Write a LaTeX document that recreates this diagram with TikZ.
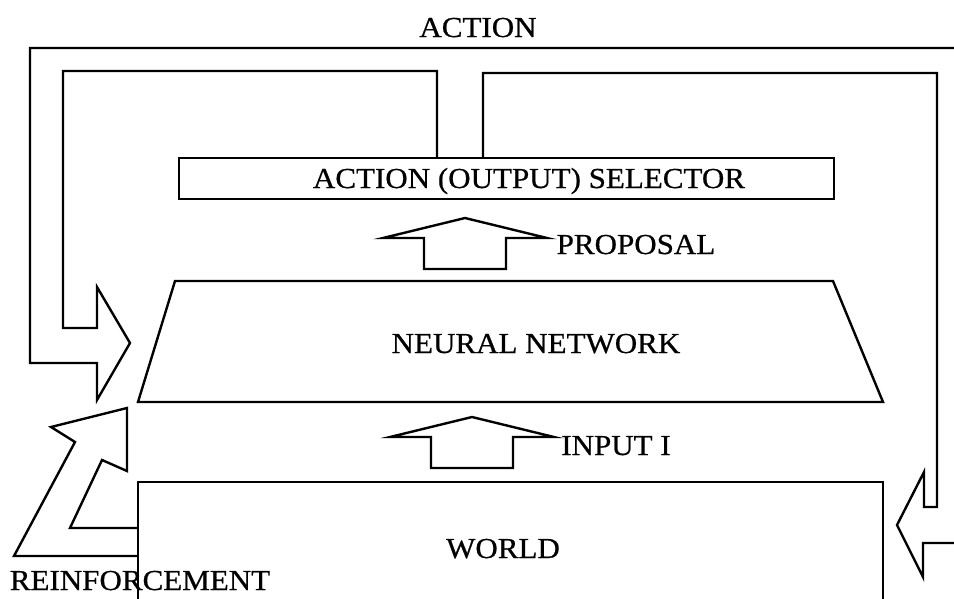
\documentclass[tikz,border=0pt]{standalone}
\usepackage{fontspec}
\setmainfont{Liberation Serif}[FakeStretch=1.07, FakeBold=0.6]
\begin{document}
\begin{tikzpicture}[x=1pt, y=-1pt, line width=2.4pt, line join=miter,
    font=\fontsize{29}{32}\selectfont, lbl/.style={anchor=base, inner sep=0pt}]
	\clip (0,0) rectangle (954,598);
	\fill[white] (0,0) rectangle (954,598);
	\path (179,158) coordinate (S1) (834,199) coordinate (S2) %selector
		(175,281) coordinate (N1) (833,281) coordinate (N2) (883,402) coordinate (N3) (138,402) coordinate (N4) %network
		(138,482) coordinate (W1) (883,482) coordinate (W2); %world
	\draw (S1) rectangle (S2);
	\draw (N1)--(N2)--(N3)--(N4)--cycle;
	\draw (138,610)--(W1)--(W2)--(883,610);
	% up arrows
	\foreach \a/\x/\y in {prop/465/218, inp/472/417}
		{\draw (\x,\y) coordinate (\a)--++(82,20)--++(-41,0)--++(0,31)--++(-82,0)--++(0,-31)--++(-41,0)--cycle;}
	% action loop
	\path (437,158) coordinate (AL) (483,158) coordinate (AR);
	\draw (AL)--(437,71)--(63,71)--(63,328)--(97,328)--(97,287)--(130,343)--(97,400)--(97,363)--(30,363)--(30,48)--(960,48);
	\draw (AR)--(483,73)--(937,73)--(937,507)--(924,507)--(924,472)--(897,525)--(923,577)--(923,543)--(960,543);
	% reinforcement
	\draw (W1|-0,556)--(14,556)--(75,442)--(51,427)--(127,408)--(127,471)--(102,460)--(70,528)--(W1|-0,528);
	\node[lbl] (act) at (478,37) {ACTION};
	\node[lbl] (sel) at (529,188) {ACTION (OUTPUT) SELECTOR};
	\node[lbl] (propl) at (636,254) {PROPOSAL};
	\node[lbl] (net) at (536,353) {NEURAL NETWORK};
	\node[lbl] (inpl) at (616,455) {INPUT I};
	\node[lbl] (world) at (503,558) {WORLD};
	\node[lbl] (reinf) at (140,590) {REINFORCEMENT};
\end{tikzpicture}
\end{document}
